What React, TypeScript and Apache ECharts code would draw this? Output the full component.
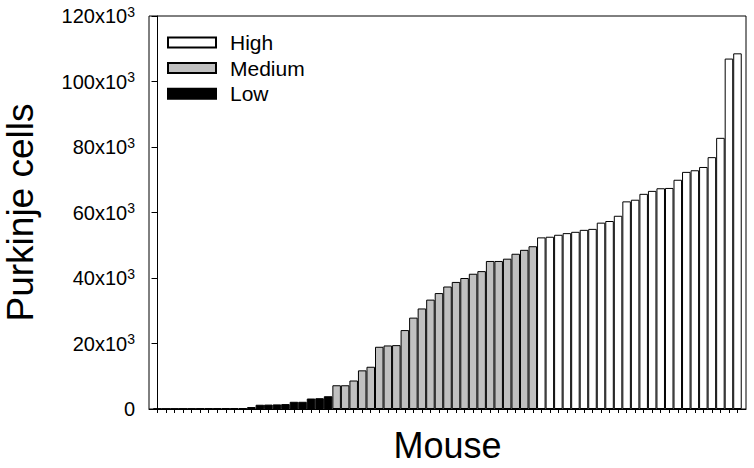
import React, { useEffect, useRef } from "react";
import * as echarts from "echarts";

// Purkinje cell counts per mouse (thousands), sorted, grouped by class
const lowValues = [0.1, 0.1, 0.1, 0.15, 0.15, 0.2, 0.2, 0.2, 0.25, 0.25, 0.3, 0.6, 1.3, 1.35, 1.4, 1.5, 2.2, 2.2, 3.2, 3.3, 3.9];
const mediumValues = [7.25, 7.25, 8.7, 11.8, 12.9, 19.0, 19.4, 19.5, 24.1, 27.9, 30.7, 33.4, 35.4, 37.4, 38.8, 40.0, 41.3, 42.1, 45.2, 45.2, 45.9, 47.4, 48.6, 49.7];
const highValues = [52.4, 52.6, 53.2, 53.7, 54.1, 54.7, 55.0, 56.9, 57.4, 59.0, 63.4, 63.9, 65.7, 66.6, 67.4, 67.5, 70.0, 72.4, 72.9, 73.9, 76.9, 82.8, 107.0, 108.6];
const seriesNames = ["High", "Medium", "Low"];
const yTicks = [0, 20000, 40000, 60000, 80000, 100000, 120000];

const FONT = 'Arial, "Liberation Sans", sans-serif';

export default function App() {
  const ref = useRef<HTMLDivElement>(null);
  useEffect(() => {
    if (!ref.current) return;
    document.body.style.margin = "0";
    const chart = echarts.init(ref.current, null, { renderer: "svg" });
    const nLow = lowValues.length;
    const nMed = mediumValues.length;
    const nHigh = highValues.length;
    const total = nLow + nMed + nHigh;
    const lowData = lowValues.map((v, i) => [i, v * 1000]);
    const medData = mediumValues.map((v, i) => [nLow + i, v * 1000]);
    const highData = highValues.map((v, i) => [nLow + nMed + i, v * 1000]);
    const tickPositions = Array.from({ length: total }, (_, i) => i);

    const barCommon = {
      type: "bar" as const,
      barWidth: "100%",
      barGap: "-100%",
      barCategoryGap: 0,
    };

    chart.setOption({
      animation: false,
      backgroundColor: "#ffffff",
      textStyle: { fontFamily: FONT },
      grid: {
        left: 149,
        right: 8,
        top: 16,
        bottom: 59,
        containLabel: false,
        outerBoundsMode: "none",
        show: true,
        borderColor: "#000",
        borderWidth: 1,
        backgroundColor: "transparent",
      },
      legend: {
        orient: "vertical",
        left: 167,
        top: 32,
        padding: 0,
        itemWidth: 48,
        itemHeight: 10,
        itemGap: 4.6,
        icon: "rect",
        data: seriesNames,
        textStyle: {
          fontFamily: FONT,
          fontSize: 21,
          lineHeight: 21,
          color: "#000",
          padding: [0, 0, 0, 9],
        },
      },
      xAxis: {
        type: "value",
        min: -1,
        max: total,
        name: "Mouse",
        nameLocation: "middle",
        nameGap: 18,
        nameTextStyle: { fontFamily: FONT, fontSize: 36, color: "#000" },
        axisLine: { show: true, lineStyle: { color: "#000", width: 1 } },
        axisTick: {
          show: true,
          inside: false,
          length: 4,
          customValues: tickPositions,
          lineStyle: { color: "#000", width: 1 },
        },
        axisLabel: { show: false },
        splitLine: { show: false },
      },
      yAxis: {
        type: "value",
        min: yTicks[0],
        max: yTicks[yTicks.length - 1],
        interval: yTicks[1] - yTicks[0],
        name: "Purkinje cells",
        nameLocation: "middle",
        nameGap: 110,
        nameTextStyle: { fontFamily: FONT, fontSize: 37, color: "#000" },
        axisLine: { show: true, lineStyle: { color: "#000", width: 1 } },
        axisTick: { show: true, inside: false, length: 6, lineStyle: { color: "#000", width: 1 } },
        splitLine: { show: false },
        axisLabel: {
          margin: 14,
          fontFamily: FONT,
          fontSize: 20,
          color: "#000",
          formatter: (v: number) => (v === 0 ? "0" : `{n|${v / 1000}x10}{s|3}`),
          rich: {
            n: { fontFamily: FONT, fontSize: 20, lineHeight: 23, color: "#000" },
            s: { fontFamily: FONT, fontSize: 14, lineHeight: 14, verticalAlign: "top", color: "#000" },
          },
        },
      },
      series: [
        {
          ...barCommon,
          name: "High",
          data: highData,
          itemStyle: { color: "#ffffff", borderColor: "#000", borderWidth: 1 },
        },
        {
          ...barCommon,
          name: "Medium",
          data: medData,
          itemStyle: { color: "#c0c0c0", borderColor: "#000", borderWidth: 1 },
        },
        {
          ...barCommon,
          name: "Low",
          data: lowData,
          itemStyle: { color: "#000000", borderColor: "#000", borderWidth: 1 },
        },
      ],
    });
    return () => chart.dispose();
  }, []);
  return <div ref={ref} style={{ width: 754, height: 468 }} />;
}
